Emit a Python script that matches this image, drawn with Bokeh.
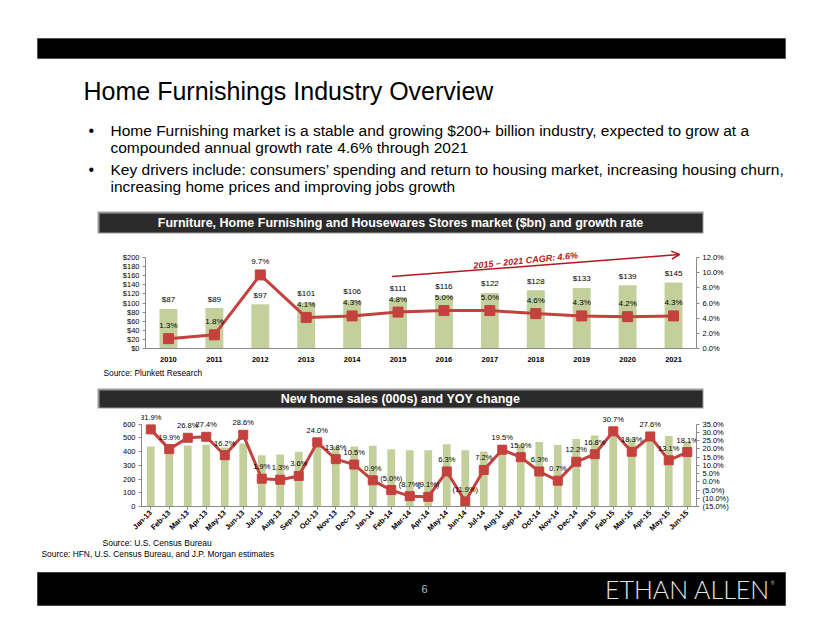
import math
from bokeh.plotting import figure
from bokeh.models import Range1d, LinearAxis, FixedTicker, FactorRange, Arrow, OpenHead
from bokeh.core.properties import value
from bokeh.embed import file_html
from bokeh.resources import INLINE

FONT = "Liberation Sans"
BAR = "#c4d09c"
RED = "#c4413d"
DARKRED = "#b3181c"
AXIS = "#8a8a8a"

# ---------------- data ----------------
years = ["2010", "2011", "2012", "2013", "2014", "2015", "2016", "2017", "2018", "2019", "2020", "2021"]
market_bn = [87, 89, 97, 101, 106, 111, 116, 122, 128, 133, 139, 145]
growth_pct = [1.3, 1.8, 9.7, 4.1, 4.3, 4.8, 5.0, 5.0, 4.6, 4.3, 4.2, 4.3]
market_ticks = [0, 20, 40, 60, 80, 100, 120, 140, 160, 180, 200]
market_tick_labels = ["$0", "$20", "$40", "$60", "$80", "$100", "$120", "$140", "$160", "$180", "$200"]
growth_ticks = [0, 2, 4, 6, 8, 10, 12]
growth_tick_labels = ["0.0%", "2.0%", "4.0%", "6.0%", "8.0%", "10.0%", "12.0%"]
cagr_text = "2015 \u2013 2021 CAGR: 4.6%"

months = ["Jan-13", "Feb-13", "Mar-13", "Apr-13", "May-13", "Jun-13", "Jul-13", "Aug-13", "Sep-13",
          "Oct-13", "Nov-13", "Dec-13", "Jan-14", "Feb-14", "Mar-14", "Apr-14", "May-14", "Jun-14",
          "Jul-14", "Aug-14", "Sep-14", "Oct-14", "Nov-14", "Dec-14", "Jan-15", "Feb-15", "Mar-15",
          "Apr-15", "May-15", "Jun-15"]
home_sales = [438, 445, 445, 450, 431, 460, 374, 379, 400, 440, 438, 438, 443, 417, 410,
              410, 455, 410, 402, 450, 455, 471, 448, 493, 519, 540, 498, 520, 514, 474]
yoy_pct = [31.9, 19.9, 26.8, 27.4, 16.2, 28.6, 1.9, 1.3, 3.6, 24.0, 13.8, 10.5, 0.9, -5.0, -8.7,
           -9.1, 6.3, -11.9, 7.2, 19.5, 15.0, 6.3, 0.7, 12.2, 16.8, 30.7, 18.3, 27.6, 13.1, 18.1]
sales_ticks = [0, 100, 200, 300, 400, 500, 600]
yoy_ticks = [-15, -10, -5, 0, 5, 10, 15, 20, 25, 30, 35]
yoy_tick_labels = ["(15.0%)", "(10.0%)", "(5.0%)", "0.0%", "5.0%", "10.0%", "15.0%", "20.0%",
                   "25.0%", "30.0%", "35.0%"]

title = "Home Furnishings Industry Overview"
bullets = [
    ["Home Furnishing market is a stable and growing $200+ billion industry, expected to grow at a",
     "compounded annual growth rate 4.6% through 2021"],
    ["Key drivers include: consumers\u2019 spending and return to housing market, increasing housing churn,",
     "increasing home prices and improving jobs growth"],
]
chart1_title = "Furniture, Home Furnishing and Housewares Stores market ($bn) and growth rate"
chart2_title = "New home sales (000s) and YOY change"
source1 = "Source: Plunkett Research"
source2 = "Source: U.S. Census Bureau"
source3 = "Source: HFN, U.S. Census Bureau, and J.P. Morgan estimates"
page_no = "6"
brand = "ETHAN ALLEN"

W = 822


def pct_label(v):
    return f"{v:.1f}%" if v >= 0 else f"({-v:.1f}%)"


def deco(top, height):
    f = figure(width=W, height=height, x_range=Range1d(0, W), y_range=Range1d(top + height, top),
               output_backend="svg", toolbar_location=None, min_border=0,
               x_axis_location=None, y_axis_location=None)
    f.grid.visible = False
    f.outline_line_color = None
    f.background_fill_color = "white"
    f.border_fill_color = "white"
    return f


def txt(f, x, y, s, size, color="black", align="left", style="normal", font=FONT):
    f.text(x=[x], y=[y], text=[s], text_font=value(font), text_font_size=size,
           text_color=color, text_align=align, text_baseline="middle", text_font_style=style)


def header_bar(f, x0, x1, y0, y1, label):
    f.quad(left=[x0], right=[x1], top=[y0], bottom=[y1], fill_color="#9a9a9a", line_color=None)
    f.quad(left=[x0 + 2], right=[x1 - 1], top=[y0 + 2], bottom=[y1 - 1], fill_color="#2b2b2b", line_color=None)
    txt(f, (x0 + x1) / 2, (y0 + y1) / 2 + 0.5, label, "12.5px", "white", "center", "bold")


def style_axis(ax):
    ax.axis_line_color = AXIS
    ax.major_tick_line_color = AXIS
    ax.minor_tick_line_color = None
    ax.major_tick_in = 0
    ax.major_tick_out = 3
    ax.major_label_standoff = 3
    ax.major_label_text_font = FONT
    ax.major_label_text_font_size = "7.5px"
    ax.major_label_text_color = "black"


# ---------------- header (page y 0..240) ----------------
fa = deco(0, 240)
fa.quad(left=[37], right=[785], top=[38], bottom=[58], fill_color="black", line_color="#555555", line_width=1)
txt(fa, 83, 90, title, "25px")
ys = [[130, 147], [169, 186]]
for lines, yy in zip(bullets, ys):
    txt(fa, 88, yy[0], "\u2022", "16px")
    for line, y in zip(lines, yy):
        txt(fa, 110, y, line, "15.5px")
header_bar(fa, 97, 703, 211, 233, chart1_title)

# ---------------- chart 1 (page y 240..368) ----------------
f1_frame_top, f1_axis_top, f1_base = 245, 257, 348
ratio1 = (f1_base - f1_frame_top) / (f1_base - f1_axis_top)
p1 = figure(width=W, height=128, x_range=FactorRange(factors=years),
            y_range=Range1d(0, market_ticks[-1] * ratio1),
            output_backend="svg", toolbar_location=None,
            min_border_left=145, min_border_right=126, min_border_top=5, min_border_bottom=20)
p1.extra_y_ranges = {"pct": Range1d(0, growth_ticks[-1] * ratio1)}
p1.grid.visible = False
p1.outline_line_color = None
p1.yaxis.ticker = FixedTicker(ticks=market_ticks)
p1.yaxis.major_label_overrides = dict(zip(market_ticks, market_tick_labels))
p1.yaxis.bounds = (market_ticks[0], market_ticks[-1])
style_axis(p1.yaxis[0])
ax_r = LinearAxis(y_range_name="pct", ticker=FixedTicker(ticks=growth_ticks),
                  bounds=(growth_ticks[0], growth_ticks[-1]),
                  major_label_overrides=dict(zip(growth_ticks, growth_tick_labels)))
style_axis(ax_r)
p1.add_layout(ax_r, "right")
style_axis(p1.xaxis[0])
p1.xaxis.major_tick_line_color = None
p1.xaxis.major_label_text_font_style = "bold"
p1.xaxis.major_label_standoff = 5

p1.vbar(x=years, top=market_bn, width=0.39, fill_color=BAR, line_color=None)
p1.line(x=years, y=growth_pct, y_range_name="pct", line_color=RED, line_width=3)
p1.scatter(x=years, y=growth_pct, y_range_name="pct", marker="square", size=10,
           fill_color=RED, line_color=RED)
p1.text(x=years, y=market_bn, text=[f"${v}" for v in market_bn], y_offset=-9,
        text_font=value(FONT), text_font_size="8px", text_align="center", text_baseline="middle",
        text_color="black")
p1.text(x=years, y=growth_pct, text=[pct_label(v) for v in growth_pct], y_range_name="pct", y_offset=-13,
        text_font=value(FONT), text_font_size="8px", text_align="center", text_baseline="middle",
        text_color="black")
p1.add_layout(Arrow(end=OpenHead(size=8, line_color=DARKRED, line_width=1.5),
                    x_start=5.37, y_start=158, x_end=11.63, y_end=206.6,
                    line_color=DARKRED, line_width=1.5))
p1.text(x=[8.28], y=[193.4], text=[cagr_text], angle=0.1, text_font=value(FONT),
        text_font_size="9px", text_font_style="bold italic", text_color=DARKRED,
        text_align="center", text_baseline="middle")

# ---------------- middle (page y 368..414) ----------------
fb = deco(368, 46)
txt(fb, 103, 372, source1, "8.3px")
header_bar(fb, 97, 703, 388, 408, chart2_title)

# ---------------- chart 2 (page y 414..538) ----------------
f2_frame_top, f2_axis_top, f2_base = 414, 424, 508
ratio2 = (f2_base - f2_frame_top) / (f2_base - f2_axis_top)
yoy_span = yoy_ticks[-1] - yoy_ticks[0]
p2 = figure(width=W, height=124, x_range=FactorRange(factors=months),
            y_range=Range1d(0, sales_ticks[-1] * ratio2),
            output_backend="svg", toolbar_location=None,
            min_border_left=141, min_border_right=126, min_border_top=0, min_border_bottom=30)
p2.extra_y_ranges = {"yoy": Range1d(yoy_ticks[0], yoy_ticks[0] + yoy_span * ratio2)}
p2.grid.visible = False
p2.outline_line_color = None
p2.yaxis.ticker = FixedTicker(ticks=sales_ticks)
p2.yaxis.bounds = (sales_ticks[0], sales_ticks[-1])
style_axis(p2.yaxis[0])
ax_r2 = LinearAxis(y_range_name="yoy", ticker=FixedTicker(ticks=yoy_ticks),
                   bounds=(yoy_ticks[0], yoy_ticks[-1]),
                   major_label_overrides=dict(zip(yoy_ticks, yoy_tick_labels)))
style_axis(ax_r2)
p2.add_layout(ax_r2, "right")
style_axis(p2.xaxis[0])
p2.xaxis.major_label_orientation = math.pi / 4
p2.xaxis.major_label_text_font_style = "bold"
p2.xaxis.major_label_standoff = 2

p2.vbar(x=months, top=home_sales, width=0.42, fill_color=BAR, line_color=None)
p2.line(x=months, y=yoy_pct, y_range_name="yoy", line_color=RED, line_width=3)
p2.scatter(x=months, y=yoy_pct, y_range_name="yoy", marker="square", size=9,
           fill_color=RED, line_color=RED)
p2.text(x=months, y=yoy_pct, text=[pct_label(v) for v in yoy_pct], y_range_name="yoy", y_offset=-12,
        text_font=value(FONT), text_font_size="7.5px", text_align="center", text_baseline="middle",
        text_color="black")

# ---------------- footer (page y 538..634) ----------------
fc = deco(538, 96)
txt(fc, 102, 542, source2, "8.5px")
txt(fc, 41, 553, source3, "8.4px")
fc.quad(left=[37], right=[785], top=[572], bottom=[605], fill_color="black", line_color="#444444", line_width=1)
txt(fc, 424, 588, page_no, "11px", "#bbbbbb", "center")
txt(fc, 687, 588, brand, "25px", "#e6e6e6", "center", font="Lato Light")
txt(fc, 772, 582, "\u00ae", "5px", "#cccccc", "center")

open("out.html", "w").write(file_html([fa, p1, fb, p2, fc], INLINE))
